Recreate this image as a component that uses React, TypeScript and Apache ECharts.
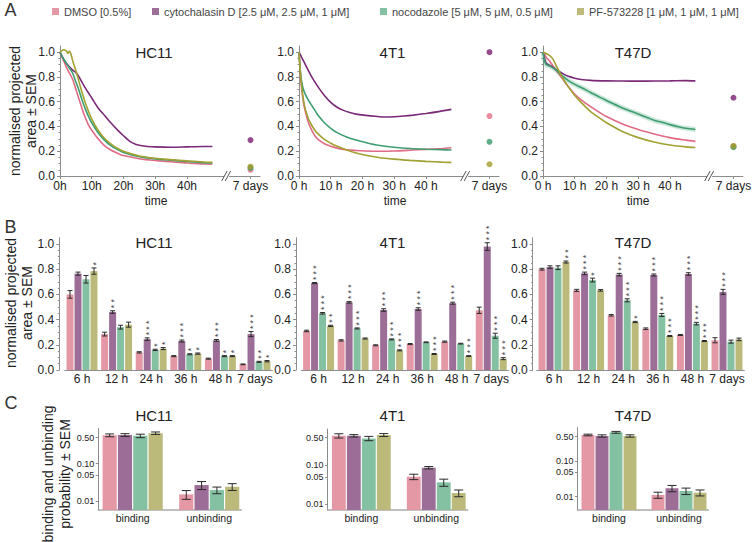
import React, { useEffect, useRef } from 'react';
import * as echarts from 'echarts';

const FONT = "'Liberation Sans', Arial, Helvetica, sans-serif";
const AXIS_COLOR = '#8c8c8c';
const TEXT_COLOR = '#222';

const TREATMENTS = ['DMSO [0.5%]', 'cytochalasin D [2.5 μM, 2.5 μM, 1 μM]', 'nocodazole [5 μM, 5 μM, 0.5 μM]', 'PF-573228 [1 μM, 1 μM, 1 μM]'];
const CELL_LINES = ['HC11', '4T1', 'T47D'];
const LINE_COLORS = ['#e16a84', '#7b2a77', '#3c9e70', '#a2a132'];
const DOT_COLORS = ['#e36f88', '#7a1f72', '#3a9b6a', '#a29c2a'];
const BAR_COLORS = ['#e497a5', '#9b6d97', '#84c1a2', '#bbba7b'];

// ---------- Panel A: time courses [hours, normalised area] ----------
const A_HC11_DMSO = [[0,1.0],[1,0.94],[2,0.88],[3,0.83],[4,0.78],[5,0.70],[6,0.62],[7,0.54],[8,0.47],[9,0.41],[10,0.37],[12,0.30],[14,0.245],[16,0.21],[18,0.185],[20,0.165],[25,0.14],[30,0.125],[35,0.115],[40,0.105],[45,0.098],[48,0.095]];
const A_HC11_CYTO = [[0,1.0],[1,0.95],[2,0.91],[3,0.88],[4,0.855],[5,0.835],[6,0.80],[7,0.755],[8,0.71],[10,0.63],[12,0.55],[14,0.49],[16,0.43],[18,0.375],[20,0.325],[22,0.28],[24,0.255],[27,0.24],[30,0.235],[35,0.232],[40,0.235],[45,0.238],[48,0.238]];
const A_HC11_NOCO = [[0,1.0],[1,0.95],[2,0.91],[3,0.87],[4,0.83],[5,0.76],[6,0.69],[7,0.61],[8,0.54],[9,0.48],[10,0.43],[12,0.35],[14,0.29],[16,0.245],[18,0.215],[20,0.19],[25,0.155],[30,0.138],[35,0.127],[40,0.117],[45,0.108],[48,0.105]];
const A_HC11_PF = [[0,1.0],[0.5,1.01],[1,1.02],[2,1.01],[2.5,0.99],[3,1.01],[3.5,0.98],[4,0.93],[5,0.85],[6,0.76],[7,0.67],[8,0.59],[9,0.52],[10,0.46],[12,0.37],[14,0.305],[16,0.26],[18,0.225],[20,0.2],[25,0.162],[30,0.143],[35,0.132],[40,0.122],[45,0.113],[48,0.11]];

const A_4T1_DMSO = [[0,1.0],[0.5,0.8],[1,0.67],[1.5,0.58],[2,0.52],[3,0.43],[4,0.37],[5,0.325],[6,0.295],[8,0.26],[10,0.24],[12,0.225],[15,0.212],[18,0.206],[21,0.202],[25,0.2],[30,0.202],[35,0.208],[40,0.215],[45,0.222],[48,0.228]];
const A_4T1_CYTO = [[0,1.0],[1,0.95],[2,0.9],[3,0.85],[4,0.8],[6,0.72],[8,0.65],[10,0.595],[12,0.555],[14,0.53],[16,0.513],[18,0.5],[21,0.49],[24,0.482],[27,0.476],[30,0.478],[33,0.484],[36,0.492],[40,0.505],[44,0.52],[48,0.538]];
const A_4T1_NOCO = [[0,1.0],[0.5,0.83],[1,0.74],[1.5,0.69],[2,0.66],[3,0.61],[4,0.57],[5,0.53],[6,0.49],[8,0.43],[10,0.385],[12,0.35],[15,0.315],[18,0.29],[21,0.27],[25,0.248],[30,0.232],[35,0.222],[40,0.216],[45,0.212],[48,0.21]];
const A_4T1_PF = [[0,1.0],[0.5,0.82],[1,0.69],[1.5,0.6],[2,0.54],[3,0.46],[4,0.41],[5,0.37],[6,0.34],[8,0.295],[10,0.265],[12,0.24],[15,0.21],[18,0.185],[21,0.168],[25,0.15],[30,0.136],[35,0.126],[40,0.118],[45,0.112],[48,0.11]];

const A_T47D_DMSO = [[0,1.0],[1,0.96],[2,0.93],[3,0.895],[4,0.86],[5,0.825],[6,0.79],[8,0.72],[10,0.66],[12,0.615],[15,0.56],[18,0.51],[20,0.48],[25,0.42],[30,0.375],[35,0.34],[40,0.31],[45,0.29],[48,0.28]];
const A_T47D_CYTO = [[0,1.0],[0.5,0.95],[1,0.91],[2,0.895],[3,0.88],[4,0.86],[5,0.845],[6,0.83],[8,0.805],[10,0.79],[12,0.78],[15,0.772],[20,0.768],[25,0.767],[30,0.766],[35,0.767],[40,0.768],[45,0.77],[48,0.768]];
const A_T47D_NOCO = [[0,1.0],[0.5,0.93],[1,0.90],[2,0.89],[3,0.875],[4,0.86],[5,0.835],[6,0.81],[8,0.77],[10,0.74],[12,0.715],[15,0.675],[18,0.635],[20,0.61],[22,0.585],[25,0.55],[28,0.52],[30,0.5],[33,0.47],[35,0.45],[38,0.43],[40,0.415],[43,0.395],[45,0.385],[48,0.375]];
const A_T47D_PF = [[0,1.0],[1,0.99],[2,0.975],[3,0.95],[4,0.9],[5,0.85],[6,0.8],[8,0.72],[10,0.65],[12,0.595],[15,0.52],[18,0.465],[20,0.43],[25,0.36],[30,0.31],[35,0.275],[40,0.25],[45,0.235],[48,0.23]];

const A_7DAYS_HC11 = [0.05, 0.29, 0.065, 0.075];
const A_7DAYS_4T1 = [0.484, 1.0, 0.276, 0.095];
const A_7DAYS_T47D = [0.24, 0.632, 0.232, 0.243];

const A_CURVES = [
  [A_HC11_DMSO, A_HC11_CYTO, A_HC11_NOCO, A_HC11_PF],
  [A_4T1_DMSO, A_4T1_CYTO, A_4T1_NOCO, A_4T1_PF],
  [A_T47D_DMSO, A_T47D_CYTO, A_T47D_NOCO, A_T47D_PF],
];
const A_7DAYS = [A_7DAYS_HC11, A_7DAYS_4T1, A_7DAYS_T47D];
const A_X_TICKS = [0, 10, 20, 30, 40, 60];
const SEVEN_DAYS_X = 60;
const BREAK_X = 52.5;
const Y_TICKS = [0, 0.2, 0.4, 0.6, 0.8, 1.0];

// ---------- Panel B: bars per time point ----------
const B_TIMES = ['6 h', '12 h', '24 h', '36 h', '48 h', '7 days'];
const B_HC11_VALUES = [
  [0.60, 0.285, 0.14, 0.11, 0.09, 0.045],
  [0.765, 0.46, 0.245, 0.23, 0.235, 0.285],
  [0.72, 0.34, 0.16, 0.125, 0.11, 0.065],
  [0.785, 0.36, 0.17, 0.13, 0.11, 0.07],
];
const B_HC11_ERRORS = [
  [0.03, 0.015, 0.005, 0.004, 0.004, 0.003],
  [0.012, 0.01, 0.01, 0.008, 0.007, 0.02],
  [0.03, 0.015, 0.005, 0.004, 0.004, 0.004],
  [0.025, 0.02, 0.008, 0.005, 0.004, 0.005],
];
const B_HC11_STARS = [
  [0, 0, 0, 0, 0, 0],
  [0, 2, 3, 3, 3, 3],
  [0, 0, 1, 1, 1, 2],
  [1, 0, 1, 1, 1, 1],
];
const B_4T1_VALUES = [
  [0.31, 0.235, 0.196, 0.206, 0.225, 0.474],
  [0.69, 0.537, 0.476, 0.484, 0.53, 0.98],
  [0.45, 0.33, 0.243, 0.22, 0.209, 0.272],
  [0.35, 0.25, 0.156, 0.127, 0.111, 0.09],
];
const B_4T1_ERRORS = [
  [0.006, 0.005, 0.004, 0.004, 0.005, 0.025],
  [0.004, 0.006, 0.01, 0.01, 0.008, 0.03],
  [0.006, 0.004, 0.004, 0.003, 0.003, 0.02],
  [0.005, 0.004, 0.004, 0.004, 0.003, 0.008],
];
const B_4T1_STARS = [
  [0, 0, 0, 0, 0, 0],
  [3, 3, 3, 3, 3, 3],
  [3, 3, 3, 0, 0, 3],
  [2, 0, 3, 3, 3, 3],
];
const B_T47D_VALUES = [
  [0.80, 0.632, 0.434, 0.328, 0.278, 0.236],
  [0.817, 0.767, 0.757, 0.754, 0.762, 0.62],
  [0.812, 0.714, 0.553, 0.437, 0.368, 0.225],
  [0.857, 0.632, 0.381, 0.27, 0.23, 0.243],
];
const B_T47D_ERRORS = [
  [0.007, 0.008, 0.006, 0.006, 0.004, 0.02],
  [0.01, 0.01, 0.01, 0.008, 0.01, 0.02],
  [0.015, 0.015, 0.012, 0.012, 0.01, 0.012],
  [0.008, 0.006, 0.005, 0.004, 0.004, 0.01],
];
const B_T47D_STARS = [
  [0, 0, 0, 0, 0, 0],
  [0, 3, 3, 3, 3, 3],
  [0, 1, 3, 3, 3, 0],
  [2, 0, 1, 3, 3, 0],
];
const B_VALUES = [B_HC11_VALUES, B_4T1_VALUES, B_T47D_VALUES];
const B_ERRORS = [B_HC11_ERRORS, B_4T1_ERRORS, B_T47D_ERRORS];
const B_STARS = [B_HC11_STARS, B_4T1_STARS, B_T47D_STARS];

// ---------- Panel C: binding / unbinding probabilities (log scale) ----------
const C_GROUPS = ['binding', 'unbinding'];
const C_TICKS = [0.01, 0.05, 0.1, 0.5];
const C_HC11_VALUES = [[0.58, 0.59, 0.56, 0.66], [0.0151, 0.0268, 0.0197, 0.0242]];
const C_HC11_ERRORS = [[0.05, 0.05, 0.06, 0.05], [0.004, 0.0065, 0.004, 0.005]];
const C_4T1_VALUES = [[0.56, 0.56, 0.48, 0.586], [0.0506, 0.0859, 0.0363, 0.0194]];
const C_4T1_ERRORS = [[0.07, 0.04, 0.06, 0.05], [0.008, 0.006, 0.0075, 0.0038]];
const C_T47D_VALUES = [[0.56, 0.525, 0.667, 0.525], [0.0112, 0.0173, 0.0145, 0.013]];
const C_T47D_ERRORS = [[0.03, 0.04, 0.04, 0.04], [0.0022, 0.0035, 0.003, 0.0025]];
const C_VALUES = [C_HC11_VALUES, C_4T1_VALUES, C_T47D_VALUES];
const C_ERRORS = [C_HC11_ERRORS, C_4T1_ERRORS, C_T47D_ERRORS];

// ---------- layout ----------
const A_GRIDS = [
  { left: 60, top: 46, width: 200, height: 130 },
  { left: 299, top: 46, width: 200, height: 130 },
  { left: 543, top: 46, width: 200, height: 130 },
];
const B_GRIDS = [
  { left: 64.7, top: 237.7, width: 207.6, height: 132.3, off: 5.4 },
  { left: 301.3, top: 237.7, width: 207.2, height: 132.3, off: 5.3 },
  { left: 536.7, top: 237.7, width: 207.6, height: 132.3, off: 4 },
];
const C_GRIDS = [
  { left: 98.2, top: 428.3, width: 143.2, height: 81.7, ymin: -2.24, ymax: -0.05 },
  { left: 327.6, top: 429, width: 140.1, height: 81, ymin: -2.145, ymax: -0.079 },
  { left: 577.5, top: 427.7, width: 130.9, height: 82.3, ymin: -2.377, ymax: -0.046 },
];
const TITLE_X = [154, 392.5, 633];
const B_BAR_STEP = 8;
const C_STEP = 0.2;
const C_BAR = 0.185;

function bErrRender(params: any, api: any) {
  const cat = api.value(0), i = api.value(1), v = api.value(2), e = api.value(3), n = api.value(4);
  const c = api.coord([cat, v]);
  const x = c[0] + (i - 1.5) * B_BAR_STEP;
  const yHi = api.coord([cat, v + e])[1];
  const yLo = api.coord([cat, v - e])[1];
  const st = { stroke: '#2a2a2a', lineWidth: 1 };
  const children: any[] = [
    { type: 'line', shape: { x1: x, y1: yHi, x2: x, y2: yLo }, style: st },
    { type: 'line', shape: { x1: x - 2.5, y1: yHi, x2: x + 2.5, y2: yHi }, style: st },
    { type: 'line', shape: { x1: x - 2.5, y1: yLo, x2: x + 2.5, y2: yLo }, style: st },
  ];
  if (n > 0) {
    // significance stars: one rotated line of text so the stars stack vertically
    const stack = new Array(n).fill('*').join(' ');
    children.push({
      type: 'text', x: x + 1.6, y: yHi - 2.5, rotation: Math.PI / 2,
      style: {
        text: stack, fontSize: 8.5, fontFamily: FONT, fill: '#444',
        textAlign: 'left', textVerticalAlign: 'middle',
      },
    });
  }
  return { type: 'group', children };
}

function cBarRender(params: any, api: any) {
  const g = api.value(0), i = api.value(1), v = api.value(2), e = api.value(3);
  const cs = params.coordSys;
  const base = cs.y + cs.height;
  const xc = g + (i - 1.5) * C_STEP;
  const ly = Math.log10(v);
  const xl = api.coord([xc - C_BAR / 2, ly])[0];
  const xr = api.coord([xc + C_BAR / 2, ly])[0];
  const yTop = api.coord([xc, ly])[1];
  const yHi = api.coord([xc, Math.log10(v + e)])[1];
  const yLo = api.coord([xc, Math.log10(v - e)])[1];
  const xm = (xl + xr) / 2;
  const st = { stroke: '#2a2a2a', lineWidth: 1 };
  return {
    type: 'group',
    children: [
      { type: 'rect', shape: { x: xl, y: yTop, width: xr - xl, height: base - yTop }, style: { fill: BAR_COLORS[i] } },
      { type: 'line', shape: { x1: xm, y1: yHi, x2: xm, y2: yLo }, style: st },
      { type: 'line', shape: { x1: xm - 4.5, y1: yHi, x2: xm + 4.5, y2: yHi }, style: st },
      { type: 'line', shape: { x1: xm - 4.5, y1: yLo, x2: xm + 4.5, y2: yLo }, style: st },
    ],
  };
}

function breakRender(params: any, api: any) {
  const p = api.coord([api.value(0), api.value(1)]);
  const st = { stroke: '#555', lineWidth: 1 };
  return {
    type: 'group',
    children: [
      { type: 'rect', shape: { x: p[0] - 2.5, y: p[1] - 1, width: 5, height: 2 }, style: { fill: '#fff' } },
      { type: 'line', shape: { x1: p[0] - 5, y1: p[1] + 5, x2: p[0] + 0.5, y2: p[1] - 5 }, style: st },
      { type: 'line', shape: { x1: p[0] - 1.5, y1: p[1] + 5, x2: p[0] + 4, y2: p[1] - 5 }, style: st },
    ],
  };
}

const axisLineStyle = { lineStyle: { color: AXIS_COLOR, width: 1 } };
const labelBase = { color: TEXT_COLOR, fontFamily: FONT, fontSize: 12 };

function buildOption() {
  const grid: any[] = [];
  const xAxis: any[] = [];
  const yAxis: any[] = [];
  const series: any[] = [];

  // Row A
  A_GRIDS.forEach((g, p) => {
    grid.push({ left: g.left, top: g.top, width: g.width, height: g.height, outerBoundsMode: 'none' });
    xAxis.push({
      gridIndex: p, type: 'value', min: 0, max: 63,
      axisLine: axisLineStyle, splitLine: { show: false },
      axisTick: { show: true, customValues: A_X_TICKS, length: 3, lineStyle: { color: AXIS_COLOR } },
      axisLabel: {
        ...labelBase, margin: 4, customValues: A_X_TICKS,
        formatter: (v: number) => (v === SEVEN_DAYS_X ? '7 days' : p === 0 ? `${v}h` : `${v} h`),
      },
    });
    yAxis.push({
      gridIndex: p, type: 'value', min: 0, max: 1.05,
      axisLine: { show: true, ...axisLineStyle }, splitLine: { show: false },
      axisTick: { show: true, customValues: Y_TICKS, length: 3, lineStyle: { color: AXIS_COLOR } },
      minorTick: { show: true, splitNumber: 4, length: 1.5, lineStyle: { color: AXIS_COLOR } },
      axisLabel: { ...labelBase, margin: 5, customValues: Y_TICKS, formatter: (v: number) => v.toFixed(1) },
    });
    if (p === 2) {
      series.push({
        type: 'line', xAxisIndex: p, yAxisIndex: p, data: A_CURVES[p][2], showSymbol: false, smooth: 0.3,
        lineStyle: { width: 5, color: LINE_COLORS[2], opacity: 0.25 }, silent: true, z: 1,
      });
    }
    A_CURVES[p].forEach((curve, i) => {
      series.push({
        type: 'line', xAxisIndex: p, yAxisIndex: p, data: curve, showSymbol: false, smooth: 0.3,
        lineStyle: { width: 1.6, color: LINE_COLORS[i] }, silent: true, z: 2,
      });
    });
    A_7DAYS[p].forEach((v, i) => {
      series.push({
        type: 'scatter', xAxisIndex: p, yAxisIndex: p, data: [[SEVEN_DAYS_X, v]], symbolSize: 6,
        itemStyle: { color: DOT_COLORS[i] }, silent: true, z: 3,
      });
    });
    series.push({
      type: 'custom', xAxisIndex: p, yAxisIndex: p, data: [[BREAK_X, 0]], renderItem: breakRender,
      clip: false, silent: true, z: 4,
    });
  });

  // Row B
  B_GRIDS.forEach((g, p) => {
    const gi = 3 + p;
    grid.push({ left: g.left, top: g.top, width: g.width, height: g.height, outerBoundsMode: 'none' });
    xAxis.push({
      gridIndex: gi, type: 'category', data: B_TIMES,
      axisLine: axisLineStyle, axisTick: { show: false },
      axisLabel: { ...labelBase, margin: 3, interval: 0 },
    });
    yAxis.push({
      gridIndex: gi, type: 'value', min: 0, max: 1.05, offset: g.off,
      axisLine: { show: true, ...axisLineStyle }, splitLine: { show: false },
      axisTick: { show: true, customValues: Y_TICKS, length: 3, lineStyle: { color: AXIS_COLOR } },
      minorTick: { show: true, splitNumber: 4, length: 1.5, lineStyle: { color: AXIS_COLOR } },
      axisLabel: { ...labelBase, margin: 5, customValues: Y_TICKS, formatter: (v: number) => v.toFixed(1) },
    });
    B_VALUES[p].forEach((vals, i) => {
      series.push({
        type: 'bar', name: TREATMENTS[i], xAxisIndex: gi, yAxisIndex: gi, data: vals,
        barWidth: 7, barGap: '14%', itemStyle: { color: BAR_COLORS[i] }, silent: true, z: 2,
      });
    });
    const errData: number[][] = [];
    B_VALUES[p].forEach((vals, i) => {
      vals.forEach((v, c) => errData.push([c, i, v, B_ERRORS[p][i][c], B_STARS[p][i][c]]));
    });
    series.push({
      type: 'custom', xAxisIndex: gi, yAxisIndex: gi, data: errData, renderItem: bErrRender,
      encode: { x: 0, y: 2 }, clip: false, silent: true, z: 5,
    });
  });

  // Row C
  C_GRIDS.forEach((g, p) => {
    const gi = 6 + p;
    grid.push({ left: g.left, top: g.top, width: g.width, height: g.height, outerBoundsMode: 'none' });
    xAxis.push({
      gridIndex: gi, type: 'value', min: 0.55, max: 2.42,
      axisLine: { lineStyle: { color: '#aaaaaa', width: 1.5 } }, splitLine: { show: false },
      axisTick: { show: false },
      axisLabel: {
        ...labelBase, fontSize: 10.5, margin: 2, customValues: [1, 2],
        formatter: (v: number) => C_GROUPS[Math.round(v) - 1],
      },
    });
    const logTicks = C_TICKS.map((t) => Math.log10(t));
    yAxis.push({
      gridIndex: gi, type: 'value', min: g.ymin, max: g.ymax,
      axisLine: { show: true, ...axisLineStyle }, splitLine: { show: false },
      axisTick: { show: true, customValues: logTicks, length: 2.5, lineStyle: { color: AXIS_COLOR } },
      axisLabel: {
        ...labelBase, fontSize: 9, margin: 4, customValues: logTicks,
        formatter: (v: number) => Math.pow(10, v).toFixed(2),
      },
    });
    const data: number[][] = [];
    C_VALUES[p].forEach((vals, gIdx) => {
      vals.forEach((v, i) => data.push([gIdx + 1, i, v, C_ERRORS[p][gIdx][i]]));
    });
    series.push({
      type: 'custom', xAxisIndex: gi, yAxisIndex: gi, data, renderItem: cBarRender,
      encode: { x: 0, y: 2 }, clip: false, silent: true, z: 2,
    });
  });

  const legendLeft = [52, 152, 380, 577];
  const legend = TREATMENTS.map((name, i) => ({
    data: [name], left: legendLeft[i], top: 6, itemWidth: 7, itemHeight: 7, icon: 'rect',
    padding: 0, itemGap: 0, selectedMode: false,
    textStyle: { fontSize: 11, color: '#444', fontFamily: FONT },
  }));

  const txt = (text: string, x: number, y: number, size: number, extra: any = {}) => ({
    type: 'text', x, y, silent: true, ...extra,
    style: { text, fontSize: size, fontFamily: FONT, fill: TEXT_COLOR, textAlign: 'center', textVerticalAlign: 'middle', ...(extra.style || {}) },
  });
  const elements: any[] = [
    txt('A', 10.5, 10, 18, { style: { fill: '#333' } }),
    txt('B', 10.5, 226.5, 18, { style: { fill: '#333' } }),
    txt('C', 11, 402.5, 18, { style: { fill: '#333' } }),
  ];
  CELL_LINES.forEach((name, p) => {
    elements.push(txt(name, TITLE_X[p], 52, 15));
    elements.push(txt(name, TITLE_X[p], 242, 15));
    elements.push(txt(name, TITLE_X[p], 415, 15));
  });
  [156, 395, 638].forEach((x) => elements.push(txt('time', x, 201, 12)));
  elements.push(txt('normalised projected\narea ± SEM', 23, 111, 14, { rotation: Math.PI / 2, style: { lineHeight: 16 } }));
  elements.push(txt('normalised projected\narea ± SEM', 19, 303, 14, { rotation: Math.PI / 2, style: { lineHeight: 16 } }));
  elements.push(txt('binding and unbinding\nprobability ± SEM', 56.5, 474, 14, { rotation: Math.PI / 2, style: { lineHeight: 17 } }));

  return {
    animation: false,
    backgroundColor: '#ffffff',
    textStyle: { fontFamily: FONT },
    legend,
    grid,
    xAxis,
    yAxis,
    series,
    graphic: { elements },
  };
}

export default function App() {
  const ref = useRef<HTMLDivElement>(null);
  useEffect(() => {
    document.body.style.margin = '0';
    if (!ref.current) return;
    const chart = echarts.init(ref.current, undefined, { renderer: 'svg' });
    chart.setOption(buildOption() as any);
    return () => chart.dispose();
  }, []);
  return <div ref={ref} style={{ width: 756, height: 542 }} />;
}
